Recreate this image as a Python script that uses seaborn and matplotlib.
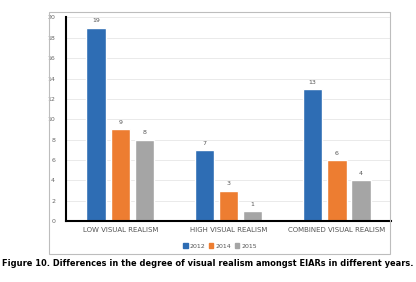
import seaborn as sns
import matplotlib.pyplot as plt
import pandas as pd
from matplotlib.patches import Rectangle

categories = ['LOW VISUAL REALISM', 'HIGH VISUAL REALISM', 'COMBINED VISUAL REALISM']
years = ['2012', '2014', '2015']
v2012 = [19, 7, 13]
v2014 = [9, 3, 6]
v2015 = [8, 1, 4]
colors = ['#2E6DB4', '#ED7D31', '#A5A5A5']

df = pd.DataFrame({
    'category': categories * 3,
    'year': [y for y in years for _ in categories],
    'count': v2012 + v2014 + v2015,
})

sns.set_style('white')
plt.rcParams['font.family'] = ['DejaVu Sans']

fig = plt.figure(figsize=(4.16, 2.82), dpi=100)
ax = fig.add_axes([0.159, 0.216, 0.781, 0.722])

sns.barplot(data=df, x='category', y='count', hue='year', order=categories,
            hue_order=years, palette=colors, width=0.67, gap=0.2,
            saturation=1, ax=ax, legend=False)

for c in ax.containers:
    ax.bar_label(c, fontsize=4.5, color='#555555', padding=3)

ax.set_ylim(0, 20)
ax.set_yticks(range(0, 21, 2))
ax.set_xlim(-0.5, 2.5)
ax.yaxis.grid(True, color='#e6e6e6', linewidth=0.6)
ax.set_axisbelow(True)
ax.set_xlabel('')
ax.set_ylabel('')
ax.tick_params(axis='y', labelsize=4.5, labelcolor='#666666', length=0, pad=8)
ax.tick_params(axis='x', labelsize=5, labelcolor='#555555', length=0, pad=4)
for s in ['top', 'right']:
    ax.spines[s].set_visible(False)
ax.spines['left'].set_color('black')
ax.spines['left'].set_linewidth(1.5)
ax.spines['bottom'].set_color('black')
ax.spines['bottom'].set_linewidth(1.5)

# outer chart frame
fig.patches.append(Rectangle((49 / 416, 1 - 254 / 282), (390 - 49) / 416, (254 - 12) / 282,
                             transform=fig.transFigure, fill=False,
                             edgecolor='#bdbdbd', linewidth=0.8))

handles = [Rectangle((0, 0), 1, 1, color=c) for c in colors]
fig.legend(handles, years, loc='center', bbox_to_anchor=(220 / 416, 1 - 246 / 282),
           ncol=3, frameon=False, fontsize=4.5, handlelength=0.7, handleheight=0.7,
           handletextpad=0.3, columnspacing=0.6, labelcolor='#555555')

fig.text(0.5, 1 - 264 / 282,
         'Figure 10. Differences in the degree of visual realism amongst EIARs in different years.',
         ha='center', va='center', fontsize=5.95, fontweight='bold', color='black')

fig.savefig('out.png', dpi=100)
